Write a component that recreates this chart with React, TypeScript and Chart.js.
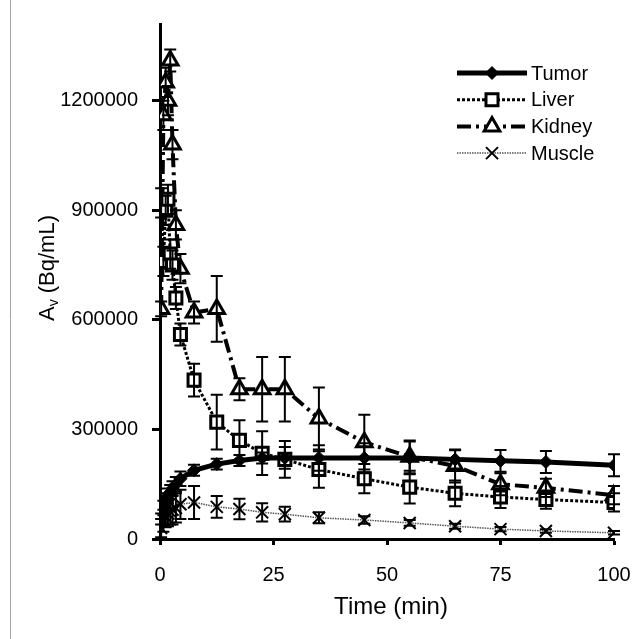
import { useEffect, useRef } from 'react';
import { Chart, registerables } from 'chart.js';

Chart.register(...registerables);

const times = [0.25, 0.75, 1.25, 1.75, 2.25, 2.75, 3.5, 4.5, 7.5, 12.5, 17.5, 22.5, 27.5, 35, 45, 55, 65, 75, 85, 100];

const tumor = [55000, 85000, 105000, 118000, 128000, 138000, 150000, 165000, 188000, 205000, 215000, 222000, 222000, 222000, 222000, 222000, 218000, 214000, 211000, 202000];
const tumorErr = [15000, 20000, 20000, 20000, 20000, 20000, 20000, 20000, 15000, 15000, 15000, 15000, 30000, 35000, 40000, 45000, 25000, 30000, 30000, 30000];

const liver = [920000, 760000, 900000, 930000, 780000, 750000, 660000, 560000, 435000, 320000, 270000, 235000, 218000, 190000, 165000, 142000, 125000, 115000, 108000, 100000];
const liverErr = [40000, 40000, 40000, 40000, 40000, 40000, 30000, 30000, 45000, 75000, 55000, 60000, 50000, 50000, 40000, 45000, 35000, 30000, 25000, 25000];

const kidney = [630000, 1160000, 1250000, 1200000, 1310000, 1080000, 860000, 740000, 620000, 630000, 410000, 410000, 410000, 330000, 265000, 225000, 200000, 150000, 140000, 120000];
const kidneyErr = [20000, 40000, 40000, 40000, 30000, 40000, 40000, 40000, 30000, 90000, 30000, 88000, 88000, 85000, 75000, 45000, 45000, 30000, 25000, 25000];

const muscle = [30000, 50000, 62000, 70000, 75000, 80000, 85000, 95000, 100000, 88000, 82000, 73000, 68000, 58000, 52000, 44000, 35000, 27000, 22000, 17000];
const muscleErr = [25000, 30000, 30000, 35000, 35000, 40000, 40000, 40000, 45000, 30000, 28000, 25000, 20000, 15000, 10000, 8000, 7000, 6000, 5000, 5000];

const seriesNames = ['Tumor', 'Liver', 'Kidney', 'Muscle'];
const xTicks = [0, 25, 50, 75, 100];
const yTicks = [0, 300000, 600000, 900000, 1200000];
const xTitle = 'Time (min)';
const yTitleMain = 'A';
const yTitleSub = 'v';
const yTitleRest = ' (Bq/mL)';

const FONT = "'Liberation Sans', Arial, Helvetica, sans-serif";

function drawMarker(ctx: CanvasRenderingContext2D, style: string, x: number, y: number, r: number, fill: string, bw: number) {
  ctx.save();
  ctx.setLineDash([]);
  ctx.lineWidth = bw;
  ctx.strokeStyle = '#000';
  ctx.fillStyle = fill;
  ctx.beginPath();
  if (style === 'rectRot') {
    ctx.moveTo(x - r, y);
    ctx.lineTo(x, y - r);
    ctx.lineTo(x + r, y);
    ctx.lineTo(x, y + r);
    ctx.closePath();
    ctx.fill();
    ctx.stroke();
  } else if (style === 'rect') {
    const s = Math.SQRT1_2 * r;
    ctx.rect(x - s, y - s, 2 * s, 2 * s);
    ctx.fill();
    ctx.stroke();
  } else if (style === 'triangle') {
    let rad = 0;
    ctx.moveTo(x + Math.sin(rad) * r, y - Math.cos(rad) * r);
    rad += (2 * Math.PI) / 3;
    ctx.lineTo(x + Math.sin(rad) * r, y - Math.cos(rad) * r);
    rad += (2 * Math.PI) / 3;
    ctx.lineTo(x + Math.sin(rad) * r, y - Math.cos(rad) * r);
    ctx.closePath();
    ctx.fill();
    ctx.stroke();
  } else if (style === 'crossRot') {
    const s = Math.SQRT1_2 * r;
    ctx.moveTo(x - s, y - s);
    ctx.lineTo(x + s, y + s);
    ctx.moveTo(x - s, y + s);
    ctx.lineTo(x + s, y - s);
    ctx.stroke();
  }
  ctx.restore();
}

export default function App() {
  const ref = useRef<HTMLCanvasElement>(null);

  useEffect(() => {
    document.body.style.margin = '0';
    const canvas = ref.current!;
    const styles = [
      { name: seriesNames[0], data: tumor, err: tumorErr, color: '#000', width: 5, dash: [] as number[], point: 'rectRot', r: 6.5, fill: '#000', bw: 1 },
      { name: seriesNames[1], data: liver, err: liverErr, color: '#000', width: 3, dash: [3, 2], point: 'rect', r: 8.5, fill: '#fff', bw: 3 },
      { name: seriesNames[2], data: kidney, err: kidneyErr, color: '#000', width: 4, dash: [14, 5, 3, 5], point: 'triangle', r: 9, fill: '#fff', bw: 3 },
      { name: seriesNames[3], data: muscle, err: muscleErr, color: '#555', width: 1.5, dash: [1.5, 1], point: 'crossRot', r: 8.5, fill: '#000', bw: 2 },
    ];

    const datasets = styles.map((s) => ({
      type: 'line' as const,
      label: s.name,
      data: times.map((t, j) => ({ x: t, y: s.data[j] })),
      borderColor: s.color,
      borderWidth: s.width,
      borderDash: s.dash,
      pointStyle: s.point as any,
      pointRadius: s.r,
      pointBackgroundColor: s.fill,
      pointBorderColor: '#000',
      pointBorderWidth: s.bw,
      tension: 0,
      fill: false,
    }));

    const errorBars = {
      id: 'errorBars',
      afterDatasetsDraw(chart: any) {
        const { ctx, scales, chartArea } = chart;
        const xs = scales.x;
        const ys = scales.y;
        ctx.save();
        ctx.beginPath();
        ctx.rect(chartArea.left - 10, chartArea.top - 10, chartArea.right - chartArea.left + 20, chartArea.bottom - chartArea.top + 10);
        ctx.clip();
        ctx.strokeStyle = '#000';
        ctx.lineWidth = 2;
        ctx.setLineDash([]);
        styles.forEach((s) => {
          times.forEach((t, j) => {
            const px = xs.getPixelForValue(t);
            const top = ys.getPixelForValue(s.data[j] + s.err[j]);
            const bot = ys.getPixelForValue(s.data[j] - s.err[j]);
            ctx.beginPath();
            ctx.moveTo(px, top);
            ctx.lineTo(px, bot);
            ctx.moveTo(px - 6, top);
            ctx.lineTo(px + 6, top);
            ctx.moveTo(px - 6, bot);
            ctx.lineTo(px + 6, bot);
            ctx.stroke();
          });
        });
        ctx.restore();
      },
    };

    const decorations = {
      id: 'decorations',
      afterDraw(chart: any) {
        const { ctx, chartArea } = chart;
        ctx.save();
        // outer frame (left edge visible in the reference)
        ctx.strokeStyle = '#a6a6a6';
        ctx.lineWidth = 1;
        ctx.setLineDash([]);
        ctx.beginPath();
        ctx.moveTo(10.5, 0);
        ctx.lineTo(10.5, 639);
        ctx.stroke();

        // legend
        const lx0 = 457;
        const lx1 = 527;
        const ly0 = 73;
        const step = 26.7;
        styles.forEach((s, i) => {
          const yy = ly0 + i * step;
          ctx.save();
          ctx.strokeStyle = s.color;
          ctx.lineWidth = s.width;
          ctx.setLineDash(s.dash);
          ctx.beginPath();
          ctx.moveTo(lx0, yy);
          ctx.lineTo(lx1, yy);
          ctx.stroke();
          ctx.restore();
          drawMarker(ctx, s.point, (lx0 + lx1) / 2, yy, s.r, s.fill, s.bw);
          ctx.fillStyle = '#000';
          ctx.font = `20px ${FONT}`;
          ctx.textAlign = 'left';
          ctx.textBaseline = 'middle';
          ctx.fillText(s.name, 531, yy + 1);
        });

        // x title
        ctx.fillStyle = '#000';
        ctx.font = `24px ${FONT}`;
        ctx.textAlign = 'center';
        ctx.textBaseline = 'middle';
        ctx.fillText(xTitle, (chartArea.left + chartArea.right) / 2 + 4, 607);

        // y title
        ctx.save();
        ctx.translate(46, 268);
        ctx.rotate(-Math.PI / 2);
        const big = `22px ${FONT}`;
        const small = `14px ${FONT}`;
        ctx.font = big;
        const wA = ctx.measureText(yTitleMain).width;
        const wR = ctx.measureText(yTitleRest).width;
        ctx.font = small;
        const wV = ctx.measureText(yTitleSub).width;
        const total = wA + wV + wR;
        let cx = -total / 2;
        ctx.textAlign = 'left';
        ctx.textBaseline = 'alphabetic';
        ctx.font = big;
        ctx.fillText(yTitleMain, cx, 8);
        cx += wA;
        ctx.font = small;
        ctx.fillText(yTitleSub, cx, 12);
        cx += wV;
        ctx.font = big;
        ctx.fillText(yTitleRest, cx, 8);
        ctx.restore();
        ctx.restore();
      },
    };

    const chart = new Chart(canvas, {
      type: 'line',
      data: { datasets },
      options: {
        responsive: false,
        maintainAspectRatio: false,
        animation: false,
        layout: { padding: { left: 0, right: 22, top: 24, bottom: 0 } },
        plugins: {
          legend: { display: false },
          tooltip: { enabled: false },
        },
        scales: {
          x: {
            type: 'linear',
            min: 0,
            max: 100,
            afterBuildTicks: (scale: any) => {
              scale.ticks = xTicks.map((v) => ({ value: v }));
            },
            afterFit: (scale: any) => {
              scale.height = 100;
              scale.paddingLeft = 0;
              scale.paddingRight = 0;
            },
            grid: { display: true, drawOnChartArea: false, drawTicks: true, tickLength: 6, tickWidth: 3, tickColor: '#000' },
            border: { display: true, color: '#000', width: 3 },
            ticks: {
              color: '#000',
              font: { family: FONT, size: 20 },
              padding: 18,
              maxRotation: 0,
              autoSkip: false,
              callback: (v: any) => String(v),
            },
          },
          y: {
            type: 'linear',
            min: 0,
            max: 1410000,
            afterBuildTicks: (scale: any) => {
              scale.ticks = yTicks.map((v) => ({ value: v }));
            },
            afterFit: (scale: any) => {
              scale.width = 160;
              scale.paddingTop = 0;
              scale.paddingBottom = 0;
            },
            grid: { display: true, drawOnChartArea: false, drawTicks: true, tickLength: 8, tickWidth: 3, tickColor: '#000' },
            border: { display: true, color: '#000', width: 3 },
            ticks: {
              color: '#000',
              font: { family: FONT, size: 20 },
              padding: 14,
              autoSkip: false,
              callback: (v: any) => String(v),
            },
          },
        },
      },
      plugins: [errorBars, decorations],
    });

    return () => chart.destroy();
  }, []);

  return <canvas ref={ref} width={636} height={639} style={{ display: 'block' }} />;
}
